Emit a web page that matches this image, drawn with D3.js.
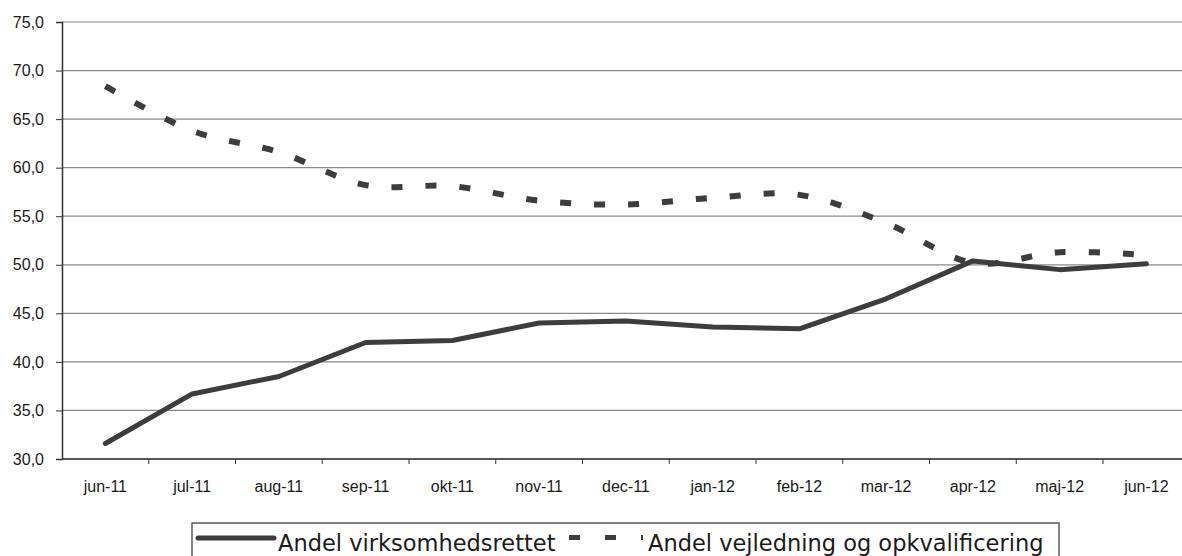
<!DOCTYPE html>
<html>
<head>
<meta charset="utf-8">
<script src="https://cdn.jsdelivr.net/npm/d3@7"></script>
<style>
  html, body { margin: 0; padding: 0; background: #fff; }
  svg { display: block; }
</style>
</head>
<body>
<div id="chart"></div>
<script>
// Data
var maaneder = ['jun-11', 'jul-11', 'aug-11', 'sep-11', 'okt-11', 'nov-11', 'dec-11',
                'jan-12', 'feb-12', 'mar-12', 'apr-12', 'maj-12', 'jun-12'];
var virksomhedsrettet = [31.6, 36.7, 38.5, 42.0, 42.2, 44.0, 44.2, 43.6, 43.4, 46.5, 50.4, 49.5, 50.1];
var vejledning = [68.4, 63.8, 61.6, 58.2, 58.1, 56.6, 56.2, 56.9, 57.2, 54.3, 50.2, 51.3, 51.0];
var yTicks = [30, 35, 40, 45, 50, 55, 60, 65, 70, 75];
var navne = ['Andel virksomhedsrettet', 'Andel vejledning og opkvalificering'];

var width = 1182, height = 556;
var venstre = 62, band = 86.75;
var linjeFarve = '#3d3d3d';

var svg = d3.select('#chart').append('svg')
    .attr('width', width)
    .attr('height', height);

// ---------- SKALAER ----------
var scale_x = d3.scalePoint()
    .domain(maaneder)
    .range([venstre, venstre + band * maaneder.length])
    .padding(0.5);

var scale_y = d3.scaleLinear()
    .domain([30, 75])
    .range([459, 22]);

var fmt = function (d) { return d3.format('.1f')(d).replace('.', ','); };

// Gitterlinjer
svg.append('g')
    .selectAll('line')
    .data(yTicks)
    .join('line')
    .attr('x1', venstre)
    .attr('x2', width)
    .attr('y1', function (d) { return scale_y(d); })
    .attr('y2', function (d) { return scale_y(d); })
    .attr('stroke', '#8a8a8a')
    .attr('stroke-width', 1.2);

// Y akse
var yAxis = svg.append('g')
    .attr('transform', 'translate(' + venstre + ',0)')
    .call(d3.axisLeft(scale_y).tickValues(yTicks).tickFormat(fmt).tickSize(6).tickPadding(12));
yAxis.select('.domain').attr('stroke', '#333').attr('stroke-width', 1.5);
yAxis.selectAll('.tick line').attr('stroke', '#333');
yAxis.selectAll('text')
    .attr('font-family', 'Liberation Sans, Arial, sans-serif')
    .attr('font-size', 16)
    .attr('fill', '#1a1a1a');

// X akse: kategorier med tick mellem kategorierne
var xAxis = svg.append('g')
    .attr('transform', 'translate(0,' + scale_y(30) + ')');
xAxis.append('line')
    .attr('x1', venstre).attr('x2', width)
    .attr('stroke', '#333').attr('stroke-width', 1.5);
xAxis.selectAll('.skille')
    .data(maaneder.slice(1))
    .join('line')
    .attr('class', 'skille')
    .attr('x1', function (d) { return scale_x(d) - band / 2; })
    .attr('x2', function (d) { return scale_x(d) - band / 2; })
    .attr('y1', 0).attr('y2', 5)
    .attr('stroke', '#333');
xAxis.selectAll('.lbl')
    .data(maaneder)
    .join('text')
    .attr('class', 'lbl')
    .attr('x', function (d) { return scale_x(d); })
    .attr('y', 33)
    .attr('text-anchor', 'middle')
    .attr('font-family', 'Liberation Sans, Arial, sans-serif')
    .attr('font-size', 16)
    .attr('fill', '#1a1a1a')
    .text(function (d) { return d; });

// ---------- LINJER ----------
var lige = d3.line()
    .x(function (d, i) { return scale_x(maaneder[i]); })
    .y(function (d) { return scale_y(d); });

var blod = d3.line()
    .curve(d3.curveCatmullRom.alpha(0))
    .x(function (d, i) { return scale_x(maaneder[i]); })
    .y(function (d) { return scale_y(d); });

svg.append('path')
    .attr('d', blod(vejledning))
    .attr('fill', 'none')
    .attr('stroke', linjeFarve)
    .attr('stroke-width', 6)
    .attr('stroke-dasharray', '11,23');

svg.append('path')
    .attr('d', lige(virksomhedsrettet))
    .attr('fill', 'none')
    .attr('stroke', linjeFarve)
    .attr('stroke-width', 5)
    .attr('stroke-linejoin', 'round')
    .attr('stroke-linecap', 'round');

// ---------- FORKLARING ----------
var leg = svg.append('g');
leg.append('rect')
    .attr('x', 192).attr('y', 523)
    .attr('width', 867).attr('height', 60)
    .attr('fill', 'none')
    .attr('stroke', '#333')
    .attr('stroke-width', 1.2);

leg.append('line')
    .attr('x1', 198).attr('x2', 274)
    .attr('y1', 538).attr('y2', 538)
    .attr('stroke', linjeFarve)
    .attr('stroke-width', 5)
    .attr('stroke-linecap', 'round');

leg.append('text')
    .attr('x', 278).attr('y', 551)
    .attr('font-family', 'DejaVu Sans, Verdana, sans-serif')
    .attr('font-size', 22.5)
    .attr('fill', '#1a1a1a')
    .text(navne[0]);

leg.append('line')
    .attr('x1', 569).attr('x2', 643)
    .attr('y1', 537.5).attr('y2', 537.5)
    .attr('stroke', linjeFarve)
    .attr('stroke-width', 5)
    .attr('stroke-dasharray', '11,25');

leg.append('text')
    .attr('x', 648).attr('y', 551)
    .attr('font-family', 'DejaVu Sans, Verdana, sans-serif')
    .attr('font-size', 22.5)
    .attr('fill', '#1a1a1a')
    .text(navne[1]);
</script>
</body>
</html>
